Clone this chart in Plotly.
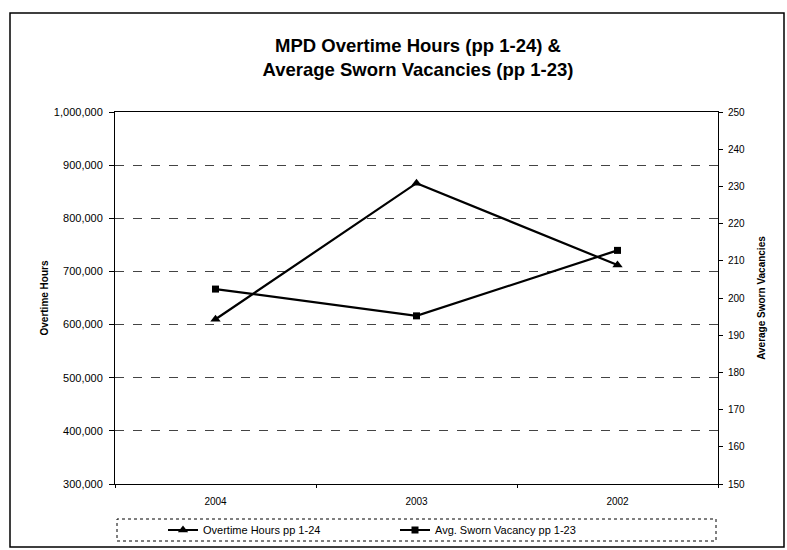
import plotly.graph_objects as go

years = ["2004", "2003", "2002"]
overtime_hours = [610000, 866000, 712000]
sworn_vacancy = [202.4, 195.2, 212.8]

left_ticks = [300000, 400000, 500000, 600000, 700000, 800000, 900000, 1000000]
right_ticks = [150, 160, 170, 180, 190, 200, 210, 220, 230, 240, 250]

FONT = "Liberation Sans, Arial, sans-serif"
W, H = 787, 550
L, R, T, B = 115, 69, 112, 66
pw, ph = W - L - R, H - T - B

def px_x(x):
    return (x - L) / pw

def px_y(y):
    return (H - B - y) / ph

fig = go.Figure()
fig.add_trace(go.Scatter(
    x=years, y=overtime_hours, name="Overtime Hours pp 1-24",
    mode="lines+markers",
    line=dict(color="black", width=2.2),
    marker=dict(symbol="triangle-up", size=9, color="black"),
    yaxis="y",
))
fig.add_trace(go.Scatter(
    x=years, y=sworn_vacancy, name="Avg. Sworn Vacancy pp 1-23",
    mode="lines+markers",
    line=dict(color="black", width=2.2),
    marker=dict(symbol="square", size=7, color="black"),
    yaxis="y2",
))

fig.update_layout(
    width=W, height=H,
    margin=dict(l=L, r=R, t=T, b=B, autoexpand=False),
    paper_bgcolor="white", plot_bgcolor="white",
    font=dict(family=FONT, size=10, color="black"),
    title=dict(
        text="<b>MPD Overtime Hours (pp 1-24) &<br>Average Sworn Vacancies (pp 1-23)</b>",
        x=px_x(418), xref="paper", xanchor="center",
        y=1 - 52 / H, yref="container", yanchor="middle",
        font=dict(family=FONT, size=18.5, color="black"),
    ),
    xaxis=dict(
        type="category", range=[-0.5, 2.5],
        showline=True, linecolor="black", linewidth=1, mirror=True,
        ticks="outside", tickson="boundaries", ticklen=3, tickcolor="black",
        ticklabelstandoff=8,
        showgrid=False, tickfont=dict(size=10), zeroline=False,
    ),
    yaxis=dict(
        range=[300000, 1000000], tickvals=left_ticks, tickformat=",d",
        showline=True, linecolor="black", linewidth=1, mirror=True,
        ticks="outside", ticklen=5, tickcolor="black", ticklabelstandoff=4,
        showgrid=True, gridcolor="#444", griddash="dash", gridwidth=1,
        zeroline=False, tickfont=dict(size=11),
        title=dict(text="<b>Overtime Hours</b>", font=dict(size=10), standoff=3),
    ),
    yaxis2=dict(
        range=[150, 250], tickvals=right_ticks, overlaying="y", side="right",
        showline=True, linecolor="black", linewidth=1,
        ticks="outside", ticklen=4, tickcolor="black", ticklabelstandoff=3,
        showgrid=False, zeroline=False, tickfont=dict(size=10),
        title=dict(text="<b>Average Sworn Vacancies</b>", font=dict(size=10), standoff=13),
    ),
    showlegend=True,
    legend=dict(
        orientation="h", x=px_x(163), xanchor="left", y=px_y(530), yanchor="middle",
        font=dict(size=11), entrywidth=187, itemwidth=30,
        bgcolor="rgba(0,0,0,0)", borderwidth=0,
    ),
    shapes=[
        dict(type="rect", xref="paper", yref="paper",
             x0=px_x(10), x1=px_x(784), y0=px_y(547), y1=px_y(13),
             line=dict(color="black", width=1.5), layer="below"),
        dict(type="rect", xref="paper", yref="paper",
             x0=px_x(117), x1=px_x(716), y0=px_y(541), y1=px_y(519),
             line=dict(color="black", width=1, dash="dot"), layer="below"),
    ],
)

fig.write_html(
    "out.html",
    config={"displayModeBar": False},
    post_script="document.body.style.margin='0';document.body.style.padding='0';",
)
